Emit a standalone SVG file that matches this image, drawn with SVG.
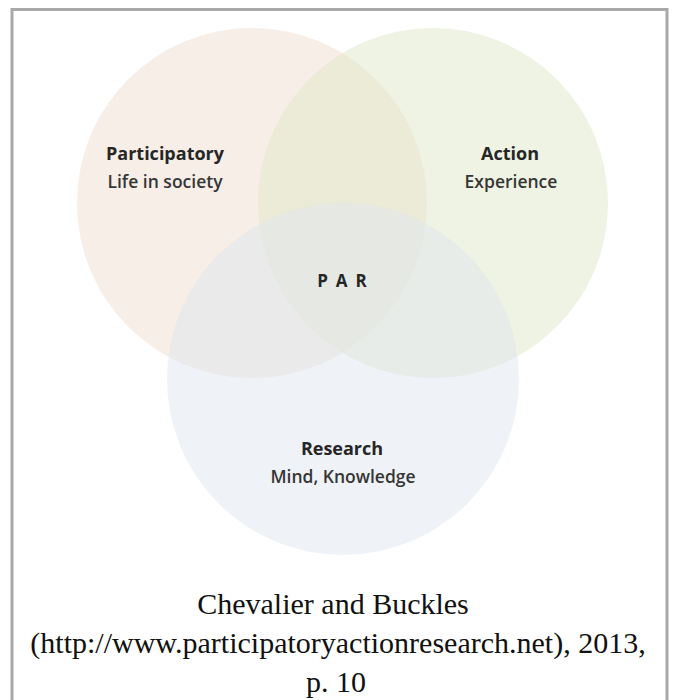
<svg xmlns="http://www.w3.org/2000/svg" width="673" height="700" viewBox="0 0 673 700">
  <style>
    .frame { fill: none; stroke: #a9a9a9; stroke-width: 3; }
    .head { font-family: "Open Sans", "DejaVu Sans", sans-serif; font-weight: bold; font-size: 18px; fill: #262626; text-anchor: middle; }
    .sub { font-family: "Open Sans", "DejaVu Sans", sans-serif; font-weight: 600; font-size: 17.5px; fill: #363636; text-anchor: middle; }
    .core { font-family: "Open Sans", "DejaVu Sans", sans-serif; font-weight: bold; font-size: 17px; fill: #262626; text-anchor: middle; letter-spacing: 8px; }
    .cite { font-family: "Liberation Serif", "Times New Roman", serif; font-size: 30px; fill: #111; text-anchor: middle; }
  </style>
  <rect width="673" height="700" fill="#ffffff"/>
  <path class="frame" d="M12,702 V9.5 H667 V702"/>

  <g id="participatory">
    <circle cx="252" cy="203" r="175" fill="#efddcf" fill-opacity="0.5"/>
    <text class="head" x="165" y="160">Participatory</text>
    <text class="sub" x="165" y="188">Life in society</text>
  </g>
  <g id="action">
    <circle cx="433" cy="203" r="175" fill="#dfe7c7" fill-opacity="0.5"/>
    <text class="head" x="510" y="160">Action</text>
    <text class="sub" x="511" y="188">Experience</text>
  </g>
  <g id="research">
    <circle cx="343" cy="379" r="176" fill="#dfe5ef" fill-opacity="0.5"/>
    <text class="head" x="342" y="455">Research</text>
    <text class="sub" x="343" y="483">Mind, Knowledge</text>
  </g>
  <g id="par">
    <text class="core" x="346" y="287">PAR</text>
  </g>

  <g id="caption">
    <text class="cite" x="333" y="614">Chevalier and Buckles</text>
    <text class="cite" x="338" y="653">(http://www.participatoryactionresearch.net), 2013,</text>
    <text class="cite" x="336" y="692">p. 10</text>
  </g>
</svg>
